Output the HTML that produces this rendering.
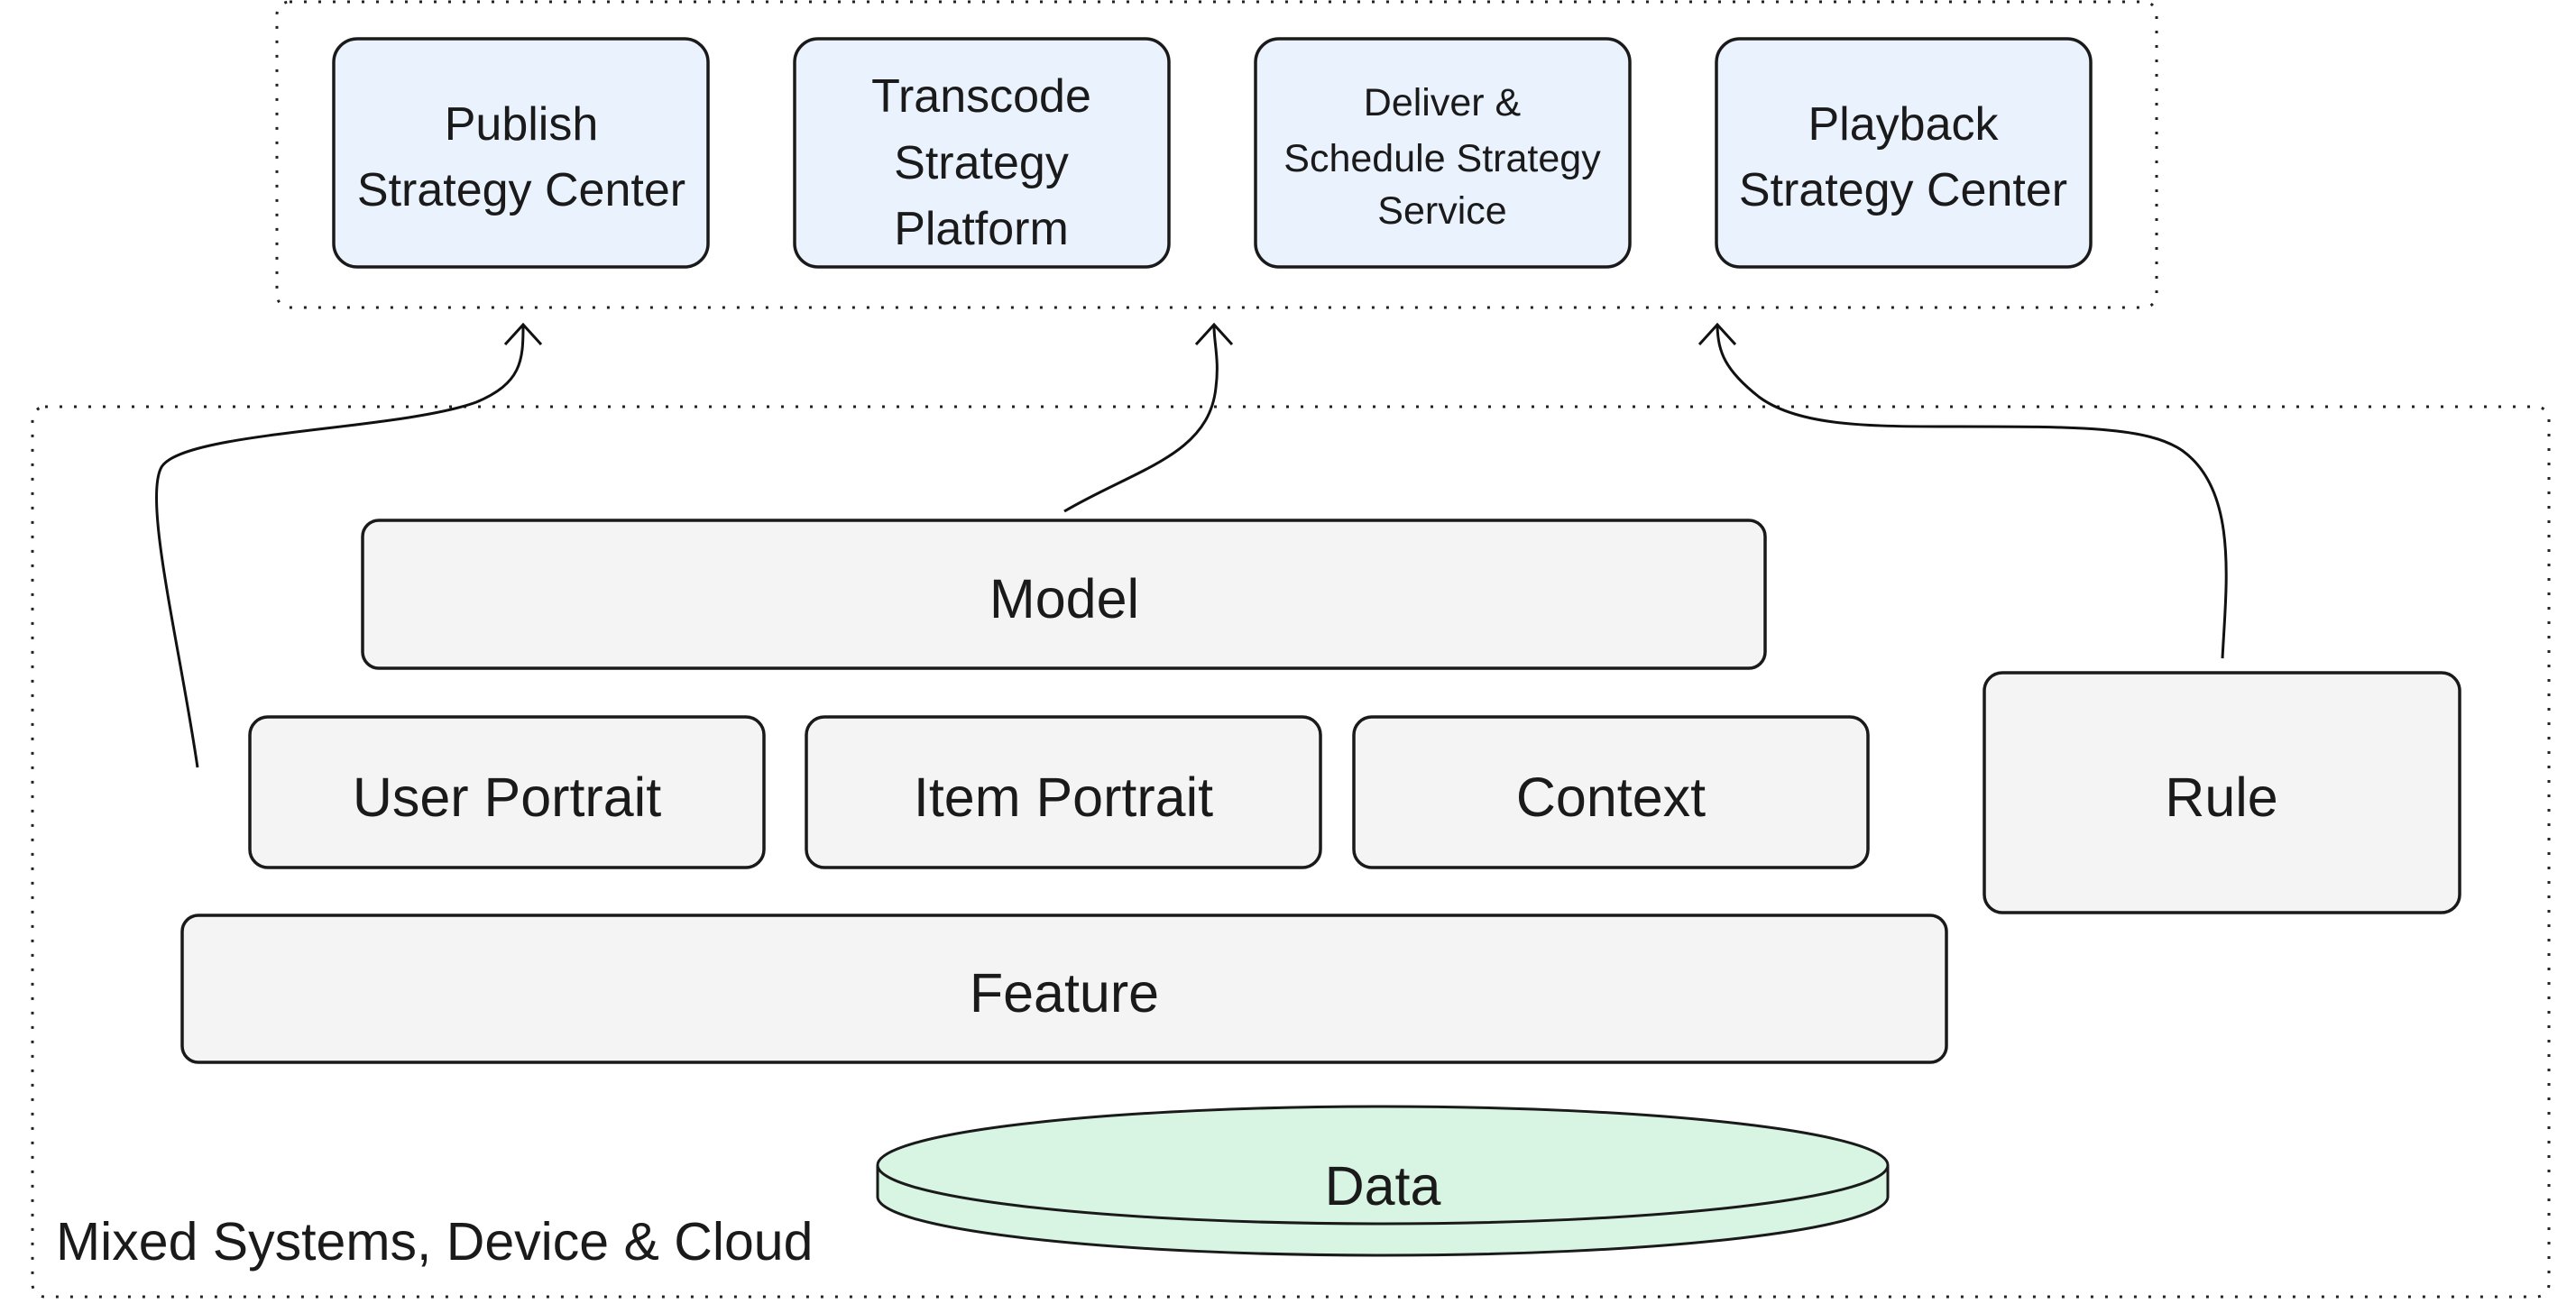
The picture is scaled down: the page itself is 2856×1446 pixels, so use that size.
<!DOCTYPE html>
<html><head><meta charset="utf-8"><style>
html,body{margin:0;padding:0;background:#fff;}
svg{display:block;}
text{font-family:"Liberation Sans",sans-serif;fill:#1a1a1a;text-anchor:middle;}
</style></head><body>
<svg width="2856" height="1446" viewBox="0 0 2856 1446" xmlns="http://www.w3.org/2000/svg">
<g fill="none" stroke="#222" stroke-width="3" stroke-dasharray="3 13">
<rect x="307" y="2" width="2084" height="339" rx="14"/>
<rect x="36" y="451" width="2790" height="987" rx="14"/>
</g>
<g stroke="#1a1a1a" stroke-width="3.5" fill="#eaf2fd">
<rect x="370" y="43" width="415" height="253" rx="26"/>
<rect x="881" y="43" width="415" height="253" rx="26"/>
<rect x="1392" y="43" width="415" height="253" rx="26"/>
<rect x="1903" y="43" width="415" height="253" rx="26"/>
</g>
<g stroke="#1a1a1a" stroke-width="3.5" fill="#f4f4f4">
<rect x="402" y="577" width="1555" height="164" rx="18"/>
<rect x="277" y="795" width="570" height="167" rx="20"/>
<rect x="894" y="795" width="570" height="167" rx="20"/>
<rect x="1501" y="795" width="570" height="167" rx="20"/>
<rect x="2200" y="746" width="527" height="266" rx="20"/>
<rect x="202" y="1015" width="1956" height="163" rx="18"/>
</g>
<g stroke="#1a1a1a" stroke-width="3" fill="#d8f5e4">
<path d="M973 1292 L973 1327 A560 65 0 0 0 2093 1327 L2093 1292"/>
<ellipse cx="1533" cy="1292" rx="560" ry="65"/>
</g>
<g fill="none" stroke="#111" stroke-width="3">
<path d="M219 851 C 200 720, 160 560, 178 520 C 195 478, 440 478, 528 446 C 578 425, 580 400, 580 362"/>
<path d="M560 382 L580 360 L600 382"/>
<path d="M1180 567 C 1260 520, 1340 505, 1348 430 C 1352 400, 1346 380, 1346 362"/>
<path d="M1326 382 L1346 360 L1366 382"/>
<path d="M2464 730 C 2468 650, 2482 545, 2420 500 C 2380 472, 2300 473, 2150 473 C 2060 473, 1990 470, 1950 440 C 1912 410, 1905 390, 1904 362"/>
<path d="M1884 382 L1904 360 L1924 382"/>
</g>
<g font-size="52">
<text x="578" y="155">Publish</text>
<text x="578" y="228">Strategy Center</text>
<text x="1088" y="124">Transcode</text>
<text x="1088" y="198">Strategy</text>
<text x="1088" y="271">Platform</text>
<text x="2110" y="155">Playback</text>
<text x="2110" y="228">Strategy Center</text>
</g>
<g font-size="43">
<text x="1599" y="128">Deliver &amp;</text>
<text x="1599" y="190">Schedule Strategy</text>
<text x="1599" y="248">Service</text>
</g>
<g font-size="61">
<text x="1180" y="685">Model</text>
<text x="562" y="905">User Portrait</text>
<text x="1179" y="905">Item Portrait</text>
<text x="1786" y="905">Context</text>
<text x="2463" y="905">Rule</text>
<text x="1180" y="1122">Feature</text>
<text x="1533" y="1336">Data</text>
<text x="62" y="1397" style="text-anchor:start" font-size="59">Mixed Systems, Device &amp; Cloud</text>
</g>
</svg>
</body></html>
